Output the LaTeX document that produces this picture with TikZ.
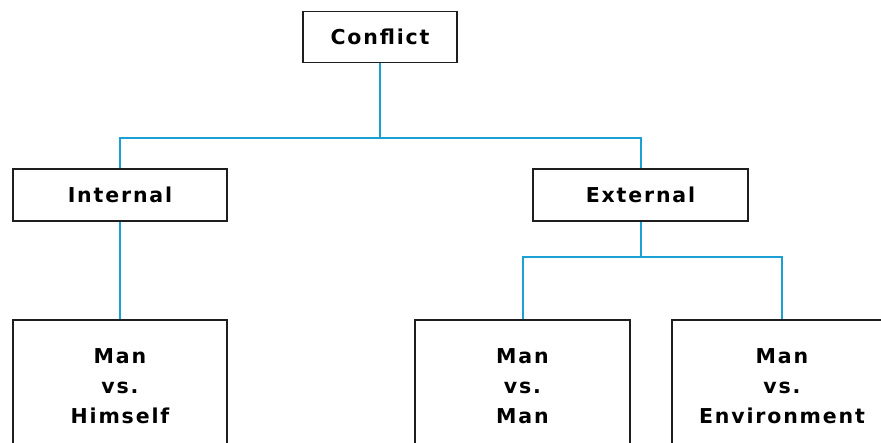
\documentclass[tikz,border=0pt]{standalone}
\usepackage{fontspec}
\newfontfamily\boxfont[LetterSpace=9]{DejaVu Sans Bold}
\definecolor{linkblue}{RGB}{28,160,212}
\definecolor{boxline}{RGB}{30,30,30}
\begin{document}
\begin{tikzpicture}[x=1pt,y=-1pt,
  box/.style={draw=boxline,line width=1.8pt,fill=white,rectangle,inner sep=0pt,align=center,
    font=\boxfont\fontsize{20.5pt}{30pt}\selectfont},
  link/.style={draw=linkblue,line width=2pt}]
\clip (0,0) rectangle (881,443);
\fill[white] (0,0) rectangle (881,443);
\node[box,minimum width=154pt,minimum height=51pt] (conflict) at (380,37) {Conflict};
\node[box,minimum width=214pt,minimum height=52pt] (internal) at (120,195) {Internal};
\node[box,minimum width=215pt,minimum height=52pt] (external) at (640.5,195) {External};
\node[box,minimum width=214pt,minimum height=132pt] (mvh) at (120,386) {Man\\vs.\\Himself};
\node[box,minimum width=215pt,minimum height=132pt] (mvm) at (522.5,386) {Man\\vs.\\Man};
\node[box,minimum width=220pt,minimum height=132pt] (mve) at (782,386) {Man\\vs.\\Environment};
\coordinate (j1) at (380,138);
\coordinate (j2) at (640.5,257);
\draw[link] (conflict.south) -- (j1);
\draw[link] (internal.north) |- (j1) -| (external.north);
\draw[link] (internal.south) -- (mvh.north);
\draw[link] (external.south) -- (j2);
\draw[link] (mvm.north) |- (j2) -| (mve.north);
\end{tikzpicture}
\end{document}
